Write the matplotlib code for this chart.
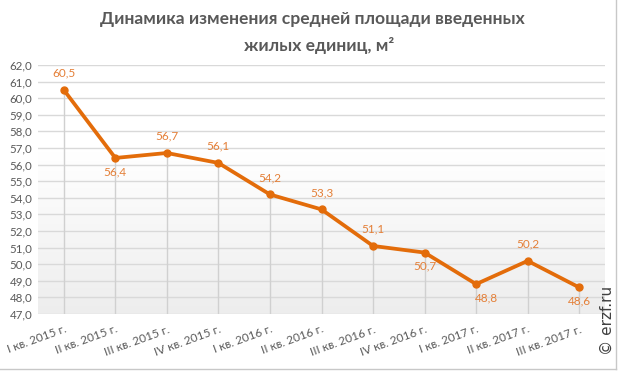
import numpy as np
import matplotlib.pyplot as plt
from matplotlib.lines import Line2D

# quarters and average area of new dwelling units
quarters = ['I кв. 2015 г.', 'II кв. 2015 г.', 'III кв. 2015 г.', 'IV кв. 2015 г.',
            'I кв. 2016 г.', 'II кв. 2016 г.', 'III кв. 2016 г.', 'IV кв. 2016 г.',
            'I кв. 2017 г.', 'II кв. 2017 г.', 'III кв. 2017 г.']
area = [60.5, 56.4, 56.7, 56.1, 54.2, 53.3, 51.1, 50.7, 48.8, 50.2, 48.6]
label_above = [True, False, True, True, True, True, True, False, False, True, False]
y_ticks = np.arange(47, 62.1, 1.0)

plt.rcParams['font.family'] = ['Lato', 'DejaVu Sans']

orange = '#E36C0A'
gray_txt = '#595959'

fig = plt.figure(figsize=(6.19, 3.71), dpi=100)
ax = fig.add_axes([38 / 619, 1 - 314 / 371, (605 - 38) / 619, (314 - 65) / 371])

x = np.arange(len(quarters))

# background gradient: white on top, light gray at the bottom
g = np.linspace(0, 1, 200)
g = np.clip((g - 0.35) / 0.65, 0, 1)
col = 1.0 - 0.07 * g
img = np.stack([col, col, col], axis=-1).reshape(200, 1, 3)
ax.imshow(img, extent=[-0.5, len(quarters) - 0.5, 47, 62], aspect='auto',
          zorder=0, origin='upper')

for yv in y_ticks:
    ax.axhline(yv, color='#d9d9d9', lw=1.0, zorder=1)

# drop lines
ax.vlines(x, 47, area, color='#d0d0d0', lw=1.0, zorder=2)

ax.plot(x, area, color=orange, lw=2.7, marker='o', ms=5, zorder=3,
        solid_capstyle='round')

for i, v in enumerate(area):
    dx = 0
    if i == 8:
        dx = 0.2
    if label_above[i]:
        ax.annotate(f'{v:.1f}'.replace('.', ','), (x[i] + dx, v), xytext=(0, 8),
                    textcoords='offset points', ha='center', va='bottom',
                    color='#E47F37', fontsize=8.5)
    else:
        ax.annotate(f'{v:.1f}'.replace('.', ','), (x[i] + dx, v), xytext=(0, -6),
                    textcoords='offset points', ha='center', va='top',
                    color='#E47F37', fontsize=8.5)

ax.set_xlim(-0.5, len(quarters) - 0.5)
ax.set_ylim(47, 62)
ax.set_yticks(y_ticks)
ax.set_yticklabels([f'{v:.1f}'.replace('.', ',') for v in y_ticks],
                   color=gray_txt, fontsize=8.3)
ax.set_xticks(x)
ax.set_xticklabels(quarters, rotation=20, ha='right', va='top',
                   rotation_mode='anchor', color=gray_txt, fontsize=8.5)
ax.tick_params(axis='y', length=0, pad=4)
ax.tick_params(axis='x', length=0, pad=7)
for s in ax.spines.values():
    s.set_visible(False)

fig.text(0.505, 1 - 19 / 371, 'Динамика изменения средней площади введенных',
         ha='center', va='center', fontsize=12.6, fontweight='bold', color=gray_txt)
fig.text(0.515, 1 - 45 / 371, 'жилых единиц, м²',
         ha='center', va='center', fontsize=12.6, fontweight='bold', color=gray_txt)

fig.text(607 / 619, 1 - 320 / 371, '© erzf.ru', rotation=90, ha='center', va='center',
         fontsize=11, color='#404040', family='DejaVu Sans')

# light frame on the right and bottom edges
fig.add_artist(Line2D([616 / 619, 616 / 619], [1 - 369 / 371, 1], color='#c8c8c8', lw=1.0))
fig.add_artist(Line2D([0, 616 / 619], [1 - 369 / 371, 1 - 369 / 371], color='#c8c8c8', lw=1.0))

fig.savefig('out.png', dpi=100)
